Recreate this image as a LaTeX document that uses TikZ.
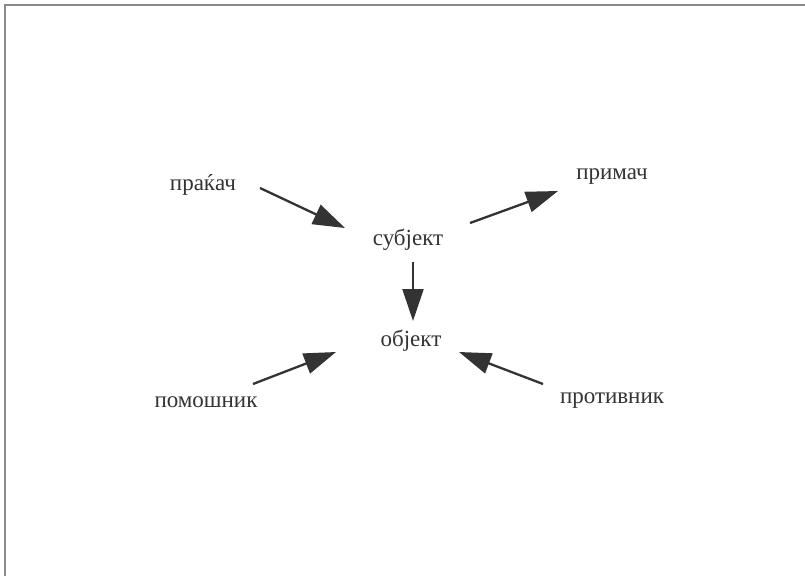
\documentclass[tikz,border=0pt]{standalone}
\usepackage{fontspec}
\setmainfont{Liberation Serif}
\usetikzlibrary{arrows.meta}
\definecolor{ink}{HTML}{333333}
\definecolor{frame}{HTML}{8A8A8A}
\begin{document}
\begin{tikzpicture}[x=1pt,y=-1pt,
  lbl/.style={text=ink,font=\fontsize{23}{27}\selectfont,inner sep=0pt},
  arr/.style={draw=ink,line width=2.3pt,-{Triangle[length=32pt,width=21pt]}}]
\useasboundingbox (0,0) rectangle (805,576);
\fill[white] (0,0) rectangle (805,576);
\draw[frame,line width=2pt] (4.5,576) -- (4.5,4.5) -- (805,4.5);
\node[lbl] (sender) at (203,185) {праќач};
\node[lbl] (receiver) at (612,177) {примач};
\node[lbl] (subject) at (408,240) {субјект};
\node[lbl] (object) at (411,341) {објект};
\node[lbl] (helper) at (206,402) {помошник};
\node[lbl] (opponent) at (612,401) {противник};
\coordinate (a1s) at (260,188); \coordinate (a1e) at (345,228);
\coordinate (a2s) at (470,223); \coordinate (a2e) at (558,191);
\coordinate (a3s) at (413,262); \coordinate (a3e) at (413,321);
\coordinate (a4s) at (253,384); \coordinate (a4e) at (336,352);
\coordinate (a5s) at (543,384); \coordinate (a5e) at (459,352);
\draw[arr] (a1s) -- (a1e);
\draw[arr] (a2s) -- (a2e);
\draw[arr] (a3s) -- (a3e);
\draw[arr] (a4s) -- (a4e);
\draw[arr] (a5s) -- (a5e);
\end{tikzpicture}
\end{document}
